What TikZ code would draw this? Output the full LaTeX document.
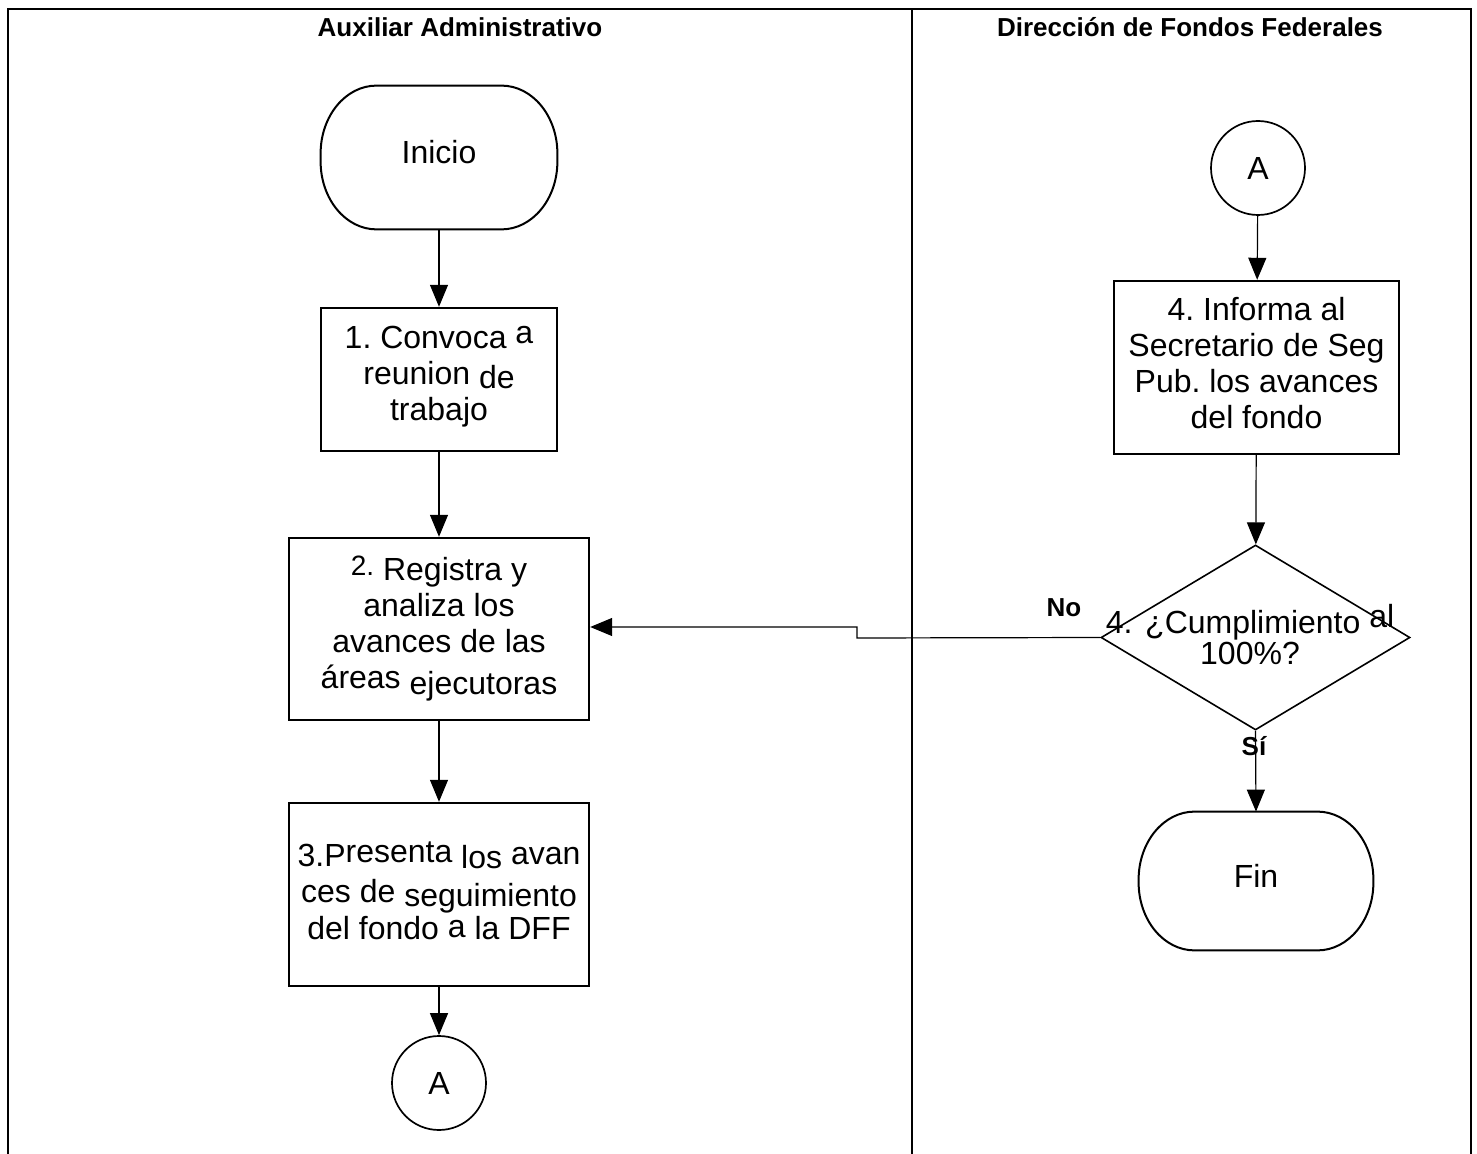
\documentclass[tikz,border=0pt]{standalone}
\usepackage{fontspec}
\setmainfont{Liberation Sans}
\usetikzlibrary{shapes.geometric,arrows.meta}
\frenchspacing

\tikzset{
  lane/.style={line width=1.3pt},
  lanediv/.style={line width=1pt},
  hdr/.style={font=\bfseries\fontsize{13}{15}\selectfont, inner sep=0pt},
  body/.style={font=\fontsize{16}{18}\selectfont, align=center},
  stepbox/.style={body, draw, line width=1.2pt, inner sep=0pt},
  termnode/.style={body, inner sep=0pt},
  termline/.style={line width=1pt},
  conn/.style={body, draw, circle, line width=0.85pt, minimum size=47pt, inner sep=0pt},
  decision/.style={draw, diamond, line width=0.8pt, inner sep=0pt},
  flow/.style={line width=0.6pt, -{Triangle[length=11pt,width=9pt]}},
}

% outline of a terminal (start / end) node with elliptical corners
\newcommand\drawterm[1]{%
  \draw[termline] ([xshift=28pt]#1.north west) -- ([xshift=-28pt]#1.north east)
    .. controls ([xshift=-12.5pt]#1.north east) and ([yshift=-15.2pt]#1.north east) .. ([yshift=-34pt]#1.north east)
    -- ([yshift=34pt]#1.south east)
    .. controls ([yshift=15.2pt]#1.south east) and ([xshift=-12.5pt]#1.south east) .. ([xshift=-28pt]#1.south east)
    -- ([xshift=28pt]#1.south west)
    .. controls ([xshift=12.5pt]#1.south west) and ([yshift=15.2pt]#1.south west) .. ([yshift=34pt]#1.south west)
    -- ([yshift=-34pt]#1.north west)
    .. controls ([yshift=-15.2pt]#1.north west) and ([xshift=12.5pt]#1.north west) .. ([xshift=28pt]#1.north west)
    -- cycle;}

% text lifted inside its node without changing the node's size
\newcommand\lift[2]{\raisebox{#1}[\height][\depth]{#2}}

\begin{document}
\begin{tikzpicture}[x=0.5pt,y=-0.5pt]
\useasboundingbox (0,0) rectangle (1477,1154);
\fill[white] (0,0) rectangle (1477,1154);

% swimlanes
\draw[lane] (8,1154) -- (8,9) -- (1471,9) -- (1471,1154);
\draw[lanediv] (912,9) -- (912,1154);
\node[hdr] (h1) at (460,27) {Auxiliar Administrativo};
\node[hdr] (h2) at (1190,27) {Dirección de Fondos Federales};

% left lane
\node[termnode, minimum width=118pt, minimum height=71.5pt] (inicio) at (439,157.5) {\lift{2.75pt}{Inicio}};
\drawterm{inicio}

\node[stepbox, minimum width=118pt, minimum height=71.5pt] (box1) at (439,379.5)
  {\lift{1.5pt}{1. Convoca \raisebox{2.5pt}{a}}\\\lift{1.5pt}{reunion \raisebox{-2pt}{de}}\\\lift{1.5pt}{trabajo}};

\node[stepbox, minimum width=150pt, minimum height=91pt] (box2) at (439,629)
  {\raisebox{2.5pt}{\fontsize{14}{14}\selectfont 2.} Registra y\\analiza los\\avances de las\\áreas \raisebox{-3pt}{ejecutoras}};

\node[stepbox, minimum width=150pt, minimum height=91.5pt] (box3) at (439,894.5)
  {\lift{2pt}{3.P\raisebox{2pt}{resenta} \raisebox{-1pt}{los} \raisebox{1pt}{avan}}\\\lift{2pt}{ces de \raisebox{-2pt}{seguimiento}}\\\lift{1.5pt}{del fondo \raisebox{1pt}{a} la DFF}};

\node[conn] (connA1) at (439,1083) {A};

% right lane
\node[conn] (connA2) at (1258,168) {A};

\node[stepbox, minimum width=142.5pt, minimum height=86.5pt] (box4) at (1256.5,367.5)
  {\lift{2pt}{4. Informa al}\\\lift{2pt}{Secretario de Seg}\\\lift{2pt}{Pub. los avances}\\\lift{2pt}{del fondo}};

\node[decision, minimum width=154.5pt, minimum height=92.5pt] (dec) at (1255.5,637.5) {};
\node[font=\fontsize{16}{13.5}\selectfont, align=center, inner sep=0pt] (dect) at (1250,634.5)
  {4.\hspace{0.4em}¿Cumplimiento \raisebox{3pt}{al}\\100\%?};

\node[termnode, minimum width=117pt, minimum height=69pt] (fin) at (1256,881) {\lift{2.5pt}{Fin}};
\drawterm{fin}

\node[hdr] (lblNo) at (1064,608) {No};
\node[hdr] (lblSi) at (1254,746) {Sí};

% connectors
\draw[flow] (inicio) -- (box1);
\draw[flow] (box1) -- (box2);
\draw[flow] (box2) -- (box3);
\draw[flow] (box3) -- (connA1);
\draw[flow] (connA2) -- (box4);
\draw[flow] (box4) -- (dec);
\draw[flow] (dec.south) -- (fin.north);

\coordinate (j1) at (857,638);
\coordinate (j2) at (857,627);
\draw[flow] (dec.west) -- (j1) -- (j2) -- (box2.east |- j2);

\end{tikzpicture}
\end{document}
